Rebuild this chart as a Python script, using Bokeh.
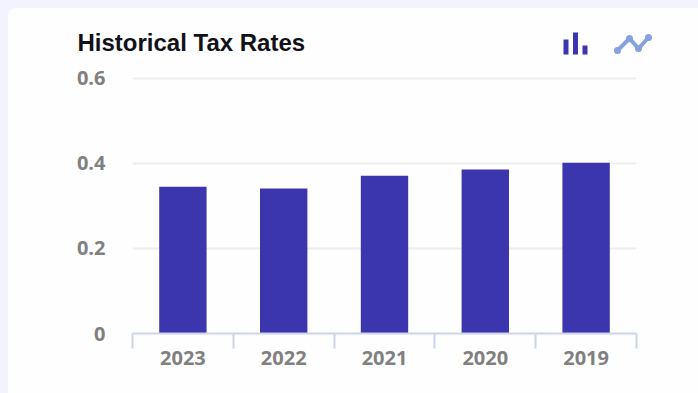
from bokeh.embed import file_html
from bokeh.layouts import column
from bokeh.models import FixedTicker, Label, Range1d
from bokeh.plotting import figure
from bokeh.resources import INLINE

# Effective tax rate per fiscal year, newest first
years = ["2023", "2022", "2021", "2020", "2019"]
tax_rates = [0.345, 0.341, 0.371, 0.386, 0.402]
rate_ticks = [0, 0.2, 0.4, 0.6]
rate_labels = {0: "0", 0.2: "0.2", 0.4: "0.4", 0.6: "0.6"}

BAR = "#3b35ae"
PAGE = "#f3f2ff"
CARD = "#fefefe"
AXIS = "#ccd3ea"
GRID = "#ededf0"
TEXT = "#808080"
LINE_ICON = "#86a0e0"

# Header strip: title and chart-type switch icons, in page pixel coordinates
header = figure(
    width=690, height=50, output_backend="svg", toolbar_location=None,
    x_range=Range1d(8, 698), y_range=Range1d(58, 8),
    min_border=0, margin=(8, 0, 0, 8), frame_align=False,
    styles={"border-top-left-radius": "8px", "overflow": "hidden", "background-color": CARD},
)
header.axis.visible = False
header.grid.visible = False
header.outline_line_color = None
header.border_fill_color = None
header.background_fill_color = None

header.add_layout(Label(
    x=77, y=42, text="Historical Tax Rates",
    text_font="Liberation Sans", text_font_style="bold", text_font_size="24px",
    text_color="#111118", text_baseline="middle",
))

icon_bar_x = [565.5, 575, 584.5]
icon_bar_top = [39, 32, 45]
header.vbar(x=icon_bar_x, top=icon_bar_top, bottom=54, width=5, fill_color=BAR, line_color=None)

icon_line_x = [617, 629, 638, 648]
icon_line_y = [50, 38, 48, 37]
header.line(icon_line_x, icon_line_y, line_color=LINE_ICON, line_width=4)
header.scatter(icon_line_x, icon_line_y, size=7, fill_color=LINE_ICON, line_color=None)

# Bar chart; the value axis runs a hair past 0.6 so the top grid line is kept
positions = [i + 0.5 for i in range(len(years))]

p = figure(
    width=690, height=335, output_backend="svg", toolbar_location=None,
    x_range=Range1d(0, len(years)), y_range=Range1d(0, 0.6047),
    min_border_left=124, min_border_right=62, min_border_top=18, min_border_bottom=60,
    margin=(0, 0, 0, 8), frame_align=False,
    styles={"background-color": CARD},
)
p.border_fill_color = None
p.background_fill_color = None
p.outline_line_color = None

p.vbar(x=positions, top=tax_rates, bottom=0, width=0.47, fill_color=BAR, line_color=None)

# Category labels sit mid-band, tick marks on the band boundaries
xaxis = p.xaxis[0]
xaxis.ticker = FixedTicker(ticks=positions, minor_ticks=list(range(len(years) + 1)))
xaxis.major_label_overrides = dict(zip(positions, years))
xaxis.major_tick_line_color = None
xaxis.major_tick_in = 0
xaxis.major_tick_out = 0
xaxis.minor_tick_in = 0
xaxis.minor_tick_out = 15
xaxis.minor_tick_line_color = AXIS
xaxis.minor_tick_line_width = 2
xaxis.axis_line_color = AXIS
xaxis.axis_line_width = 2
xaxis.major_label_standoff = 2
xaxis.major_label_text_font = "Open Sans"
xaxis.major_label_text_font_style = "bold"
xaxis.major_label_text_font_size = "20px"
xaxis.major_label_text_color = TEXT

yaxis = p.yaxis[0]
yaxis.ticker = FixedTicker(ticks=rate_ticks)
yaxis.major_label_overrides = rate_labels
yaxis.axis_line_color = None
yaxis.major_tick_line_color = None
yaxis.minor_tick_line_color = None
yaxis.major_tick_in = 0
yaxis.major_tick_out = 0
yaxis.major_label_standoff = 27
yaxis.major_label_text_font = "Open Sans"
yaxis.major_label_text_font_style = "bold"
yaxis.major_label_text_font_size = "20px"
yaxis.major_label_text_color = TEXT

p.xgrid.visible = False
p.ygrid[0].ticker = FixedTicker(ticks=rate_ticks[1:])
p.ygrid[0].grid_line_color = GRID
p.ygrid[0].grid_line_width = 2

page = column(header, p, width=698, height=393, spacing=0, styles={"background-color": PAGE})

open("out.html", "w").write(file_html(page, INLINE))
